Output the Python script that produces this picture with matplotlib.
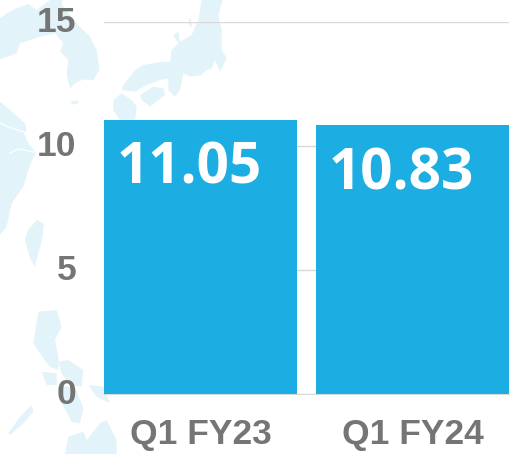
import matplotlib
matplotlib.use('Agg')
import matplotlib.pyplot as plt
from matplotlib.patches import Polygon
from matplotlib.transforms import ScaledTranslation

# datos
categories = ['Q1 FY23', 'Q1 FY24']
values = [11.05, 10.83]
value_labels = ['11.05', '10.83']
y_ticks = [0, 5, 10, 15]

BAR = '#1CADE2'
GREY = '#757575'
MAP = '#E3F3FA'


def z(points, ox=0, oy=0):
    return [(ox + a / 3, oy + b / 3) for a, b in points]


# mapa de fondo (decoracion, en pixeles)
map_shapes = [
    # norte de China y Corea
    z([(0, 55), (20, 40), (50, 25), (85, 12), (110, 30), (150, 0), (188, 0), (185, 15), (230, 70),
       (270, 110), (290, 150), (298, 210), (280, 240), (250, 238), (225, 250), (210, 265),
       (200, 225), (205, 180), (180, 155), (190, 130), (165, 100), (120, 110), (60, 130),
       (50, 160), (0, 178)]),
    # sur de China
    z([(0, -25), (30, 0), (75, 40), (80, 60), (72, 70), (85, 100), (108, 128), (100, 140), (85, 180),
       (70, 230), (35, 280), (20, 350), (0, 375)], 0, 110),
    # Taiwan
    [(37, 220), (44, 224), (42, 240), (37, 258), (35, 267), (30, 258), (25, 240), (28, 230)],
    # Japon
    z([(305, 0), (368, 0), (355, 45), (365, 90), (365, 150), (380, 175), (360, 215), (345, 180),
       (335, 205), (320, 210), (305, 225), (270, 230), (250, 220), (240, 270), (225, 290),
       (205, 270), (205, 235), (180, 240), (140, 255), (105, 275), (65, 270), (70, 255),
       (105, 210), (130, 195), (190, 185), (210, 185), (215, 150), (235, 130), (220, 105),
       (235, 95), (240, 125), (275, 105), (295, 60)], 100, 0),
    z([(40, 300), (65, 280), (95, 300), (110, 320), (105, 362), (60, 362), (40, 330)], 100, 0),
    z([(120, 285), (160, 260), (190, 265), (195, 285), (150, 320), (125, 300)], 100, 0),
    z([(265, 60), (272, 55), (276, 80), (268, 78)], 100, 0),
    # isla de Jeju
    z([(212, 305), (235, 300), (235, 310), (218, 314)]),
    # Filipinas
    z([(115, 65), (170, 60), (185, 110), (165, 150), (175, 200), (175, 240), (150, 230),
       (130, 205), (100, 160), (105, 130)], 0, 290),
    z([(175, 215), (205, 210), (250, 240), (245, 290), (210, 285), (185, 250)], 0, 290),
    z([(265, 285), (310, 290), (330, 340), (290, 320)], 0, 290),
    z([(125, 245), (170, 250), (170, 285), (140, 285)], 0, 290),
    z([(175, 290), (225, 290), (250, 355), (240, 400), (215, 395), (185, 340)], 0, 290),
    z([(25, 430), (60, 380), (95, 345), (100, 365), (70, 400), (30, 435)], 0, 290),
    z([(195, 492), (205, 440), (250, 425), (260, 450), (300, 400), (320, 390), (350, 450),
       (350, 492)], 0, 290),
]

fig = plt.figure(figsize=(5.24, 4.54), dpi=100)

bg = fig.add_axes([0, 0, 1, 1])
bg.set_xlim(0, 524)
bg.set_ylim(454, 0)
bg.axis('off')
for pts in map_shapes:
    bg.add_patch(Polygon(pts, closed=True, facecolor=MAP, edgecolor='none'))
# rios
bg.plot([0, 8, 24], [123, 127, 132], color='white', linewidth=0.9)
bg.plot([10, 18, 34], [153, 149, 152], color='white', linewidth=0.9)

ax = fig.add_axes([104 / 524, 1 - 394 / 454, 405 / 524, 372 / 454])
ax.patch.set_alpha(0)
width = 0.91
ax.bar(categories, values, width=width, color=BAR, zorder=3)
ax.set_xlim(-0.455, 1.455)
ax.set_ylim(0, 15)
ax.set_yticks(y_ticks)
ax.grid(axis='y', color='#D9D9D9', linewidth=1, zorder=0)
ax.set_axisbelow(True)
for s in ['top', 'right', 'left']:
    ax.spines[s].set_visible(False)
ax.spines['bottom'].set_color('#D9D9D9')
ax.tick_params(axis='both', length=0)
ax.tick_params(axis='y', pad=20)
ax.tick_params(axis='x', pad=17)
for lab in ax.get_xticklabels() + ax.get_yticklabels():
    lab.set_fontfamily('Liberation Sans')
    lab.set_fontweight('bold')
    lab.set_fontsize(25.5)
    lab.set_color(GREY)
# subir un poco las etiquetas del eje y
shift = ScaledTranslation(0, 2 / 72, fig.dpi_scale_trans)
for lab in ax.get_yticklabels():
    lab.set_transform(lab.get_transform() + shift)

for i, (v, t) in enumerate(zip(values, value_labels)):
    ax.annotate(t, xy=(i - width / 2, v), xytext=(9, -46), textcoords='offset points',
                ha='left', va='baseline', color='white', fontsize=40.8,
                fontfamily='Open Sans', fontweight='bold', zorder=4)

fig.savefig('out.png', dpi=100)
